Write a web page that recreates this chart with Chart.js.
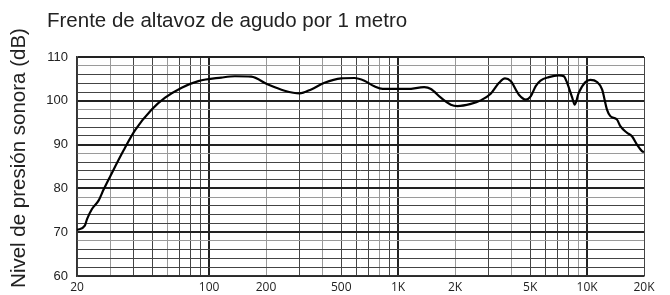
<!DOCTYPE html>
<html>
<head>
<meta charset="utf-8">
<script src="https://cdn.jsdelivr.net/npm/chart.js@4.4.1/dist/chart.umd.min.js"></script>
<style>
  html, body { margin: 0; padding: 0; background: #fff; }
</style>
</head>
<body>
<canvas id="grafico" width="670" height="295"></canvas>
<script>
// respuesta en frecuencia
let frecuencias = [20, 22, 22.6, 24, 26, 27.7, 30, 35.3, 40.6, 49.7, 58.5, 71.6, 87.7, 116, 137, 167,
  205, 251, 301, 347, 408, 500, 587, 663, 749, 829, 1036, 1123, 1375, 1491, 1683, 1901, 2062,
  2424, 2736, 3090, 3419, 3677, 3940, 4357, 4750, 5030, 5337, 5670, 6270, 7080, 7530, 7840,
  8340, 8600, 9030, 9800, 10400, 11290, 12000, 12740, 13270, 14390, 14990, 16250, 17270,
  18360, 19500, 20000];
let nivelDb = [70.5, 71.5, 73.0, 75.3, 77.2, 79.8, 82.8, 88.7, 93.3, 98.0, 100.7, 103.0, 104.5, 105.3, 105.6, 105.5,
  103.7, 102.3, 101.7, 102.6, 104.1, 105.1, 105.2, 104.6, 103.3, 102.7, 102.7, 102.7, 103.1, 102.7, 100.7, 99.1, 98.8,
  99.3, 100.1, 101.6, 104.1, 105.1, 104.5, 101.4, 100.3, 101.0, 103.3, 104.6, 105.4, 105.8, 105.6, 104.1,
  100.7, 99.1, 101.8, 104.3, 104.8, 104.3, 102.6, 98.0, 96.5, 95.7, 94.2, 92.7, 91.9,
  90.0, 88.5, 88.3];

let marcasX = [20, 30, 40, 50, 60, 70, 80, 90, 100, 200, 300, 400, 500, 600, 700, 800, 900,
  1000, 2000, 3000, 4000, 5000, 6000, 7000, 8000, 9000, 10000, 20000];
let valoresEtiquetaX = [20, 100, 200, 500, 1000, 2000, 5000, 10000, 20000];
let textosEtiquetaX = ['20', '100', '200', '500', '1K', '2K', '5K', '10K', '20K'];
let titulo = 'Frente de altavoz de agudo por 1 metro';
let tituloEjeY = 'Nivel de presión sonora (dB)';

let puntos = [];
for (let i = 0; i < frecuencias.length; i++) {
  puntos.push({x: frecuencias[i], y: nivelDb[i]});
}

let grises = [30, 60, 200, 400, 800, 2000, 4000, 9000];

// titulos dibujados a mano para ponerlos donde estan en el original
const titulosPlugin = {
  id: 'titulos',
  afterDraw(chart) {
    const ctx = chart.ctx;
    ctx.save();
    ctx.font = '20.5px "Liberation Sans", Arial, sans-serif';
    ctx.fillStyle = '#222';
    ctx.textBaseline = 'alphabetic';
    ctx.textAlign = 'left';
    ctx.fillText(titulo, 47, 27);
    ctx.translate(25, 158);
    ctx.rotate(-Math.PI / 2);
    ctx.textAlign = 'center';
    ctx.font = '20.5px "Liberation Sans", Arial, sans-serif';
    ctx.fillText(tituloEjeY, 0, 0);
    ctx.restore();
  }
};

var ctx = document.getElementById('grafico').getContext('2d');
var grafico = new Chart(ctx, {
  type: 'line',
  data: {
    datasets: [{
      data: puntos,
      borderColor: '#000',
      borderWidth: 2.2,
      pointRadius: 0,
      fill: false,
      cubicInterpolationMode: 'monotone'
    }]
  },
  plugins: [titulosPlugin],
  options: {
    responsive: false,
    animation: false,
    layout: { padding: { top: 57, right: 26, bottom: 0, left: 0 } },
    plugins: { legend: { display: false }, tooltip: { enabled: false } },
    scales: {
      x: {
        type: 'logarithmic',
        min: 20,
        max: 20000,
        afterBuildTicks: function(s) { s.ticks = marcasX.map(v => ({value: v})); },
        afterFit: function(s) { s.height = 19; },
        ticks: {
          autoSkip: false,
          maxRotation: 0,
          padding: 4,
          color: '#222',
          font: { family: '"Open Sans", sans-serif', size: 12 },
          callback: function(v) {
            let i = valoresEtiquetaX.indexOf(v);
            return i >= 0 ? textosEtiquetaX[i] : '';
          }
        },
        grid: {
          drawTicks: false,
          color: function(c) {
            let v = c.tick.value;
            if (v === 100 || v === 1000 || v === 10000) return '#222';
            return grises.indexOf(v) >= 0 ? '#9a9a9a' : '#444';
          },
          lineWidth: function(c) {
            let v = c.tick.value;
            return (v === 100 || v === 1000 || v === 10000) ? 2 : 1;
          }
        },
        border: { color: '#333', width: 1.5 }
      },
      y: {
        min: 60,
        max: 110,
        afterFit: function(s) { s.width = 77; },
        ticks: {
          stepSize: 2,
          autoSkip: false,
          padding: 9,
          color: '#222',
          font: { family: '"Liberation Sans", Arial, sans-serif', size: 13 },
          callback: function(v) { return v % 10 === 0 ? v : ''; }
        },
        grid: {
          drawTicks: false,
          color: function(c) {
            let v = c.tick.value;
            if (v % 10 === 0) return '#222';
            return v % 10 === 8 ? '#9a9a9a' : '#444';
          },
          lineWidth: function(c) { return c.tick.value % 10 === 0 ? 2 : 1; }
        },
        border: { color: '#333', width: 1.5 }
      }
    }
  }
});
</script>
</body>
</html>
